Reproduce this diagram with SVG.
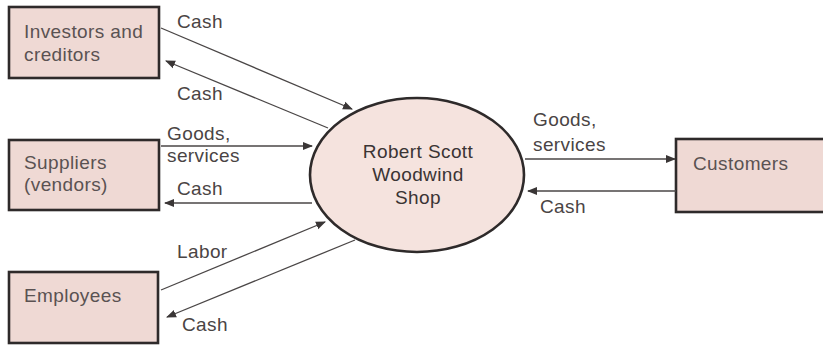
<svg xmlns="http://www.w3.org/2000/svg" width="823" height="346" viewBox="0 0 823 346">
  <style>
    .box { fill: #efd9d4; stroke: #2e2a2a; stroke-width: 2.6; }
    .shop { fill: #f5e3de; stroke: #2e2a2a; stroke-width: 2.6; }
    text { font-family: "Liberation Sans", Arial, sans-serif; font-size: 19px; letter-spacing: 0.4px; }
    .btext { fill: #5a5252; }
    .stext { fill: #3a3434; text-anchor: middle; }
    .label { fill: #4a4444; }
    .flow { stroke: #4a4646; stroke-width: 1.3; fill: none; marker-end: url(#head); }
  </style>
  <defs>
    <marker id="head" viewBox="0 0 10 10" refX="9" refY="5" markerWidth="10" markerHeight="10" markerUnits="userSpaceOnUse" orient="auto">
      <path d="M0,1 L10,5 L0,9 Z" fill="#3a3636"/>
    </marker>
  </defs>
  <rect width="823" height="346" fill="#ffffff"/>

  <g id="investors">
    <rect class="box" x="9" y="7" width="150" height="71"/>
    <text class="btext" x="24" y="38">Investors and</text>
    <text class="btext" x="24" y="61">creditors</text>
  </g>

  <g id="suppliers">
    <rect class="box" x="9" y="140" width="150" height="70"/>
    <text class="btext" x="24" y="169">Suppliers</text>
    <text class="btext" x="24" y="191">(vendors)</text>
  </g>

  <g id="employees">
    <rect class="box" x="9" y="272" width="149" height="71"/>
    <text class="btext" x="24" y="302">Employees</text>
  </g>

  <g id="customers">
    <rect class="box" x="676" y="139" width="152" height="73"/>
    <text class="btext" x="693" y="170">Customers</text>
  </g>

  <g id="shop">
    <ellipse class="shop" cx="417" cy="175" rx="107" ry="77"/>
    <text class="stext" x="418" y="158">Robert Scott</text>
    <text class="stext" x="418" y="181">Woodwind</text>
    <text class="stext" x="418" y="204">Shop</text>
  </g>

  <g id="connectors">
    <line class="flow" x1="161" y1="28" x2="352" y2="109"/>
    <line class="flow" x1="328" y1="128" x2="166" y2="61"/>
    <line class="flow" x1="161" y1="146" x2="312" y2="146"/>
    <line class="flow" x1="312" y1="203" x2="165" y2="203"/>
    <line class="flow" x1="161" y1="290" x2="325" y2="222"/>
    <line class="flow" x1="355" y1="240" x2="167" y2="317"/>
    <line class="flow" x1="525" y1="159" x2="675" y2="159"/>
    <line class="flow" x1="676" y1="191" x2="528" y2="191"/>
  </g>

  <g id="labels">
    <text class="label" x="177" y="28">Cash</text>
    <text class="label" x="177" y="100">Cash</text>
    <text class="label" x="167" y="140">Goods,</text>
    <text class="label" x="167" y="162">services</text>
    <text class="label" x="177" y="195">Cash</text>
    <text class="label" x="177" y="258">Labor</text>
    <text class="label" x="182" y="331">Cash</text>
    <text class="label" x="533" y="126">Goods,</text>
    <text class="label" x="533" y="151">services</text>
    <text class="label" x="540" y="213">Cash</text>
  </g>
</svg>
